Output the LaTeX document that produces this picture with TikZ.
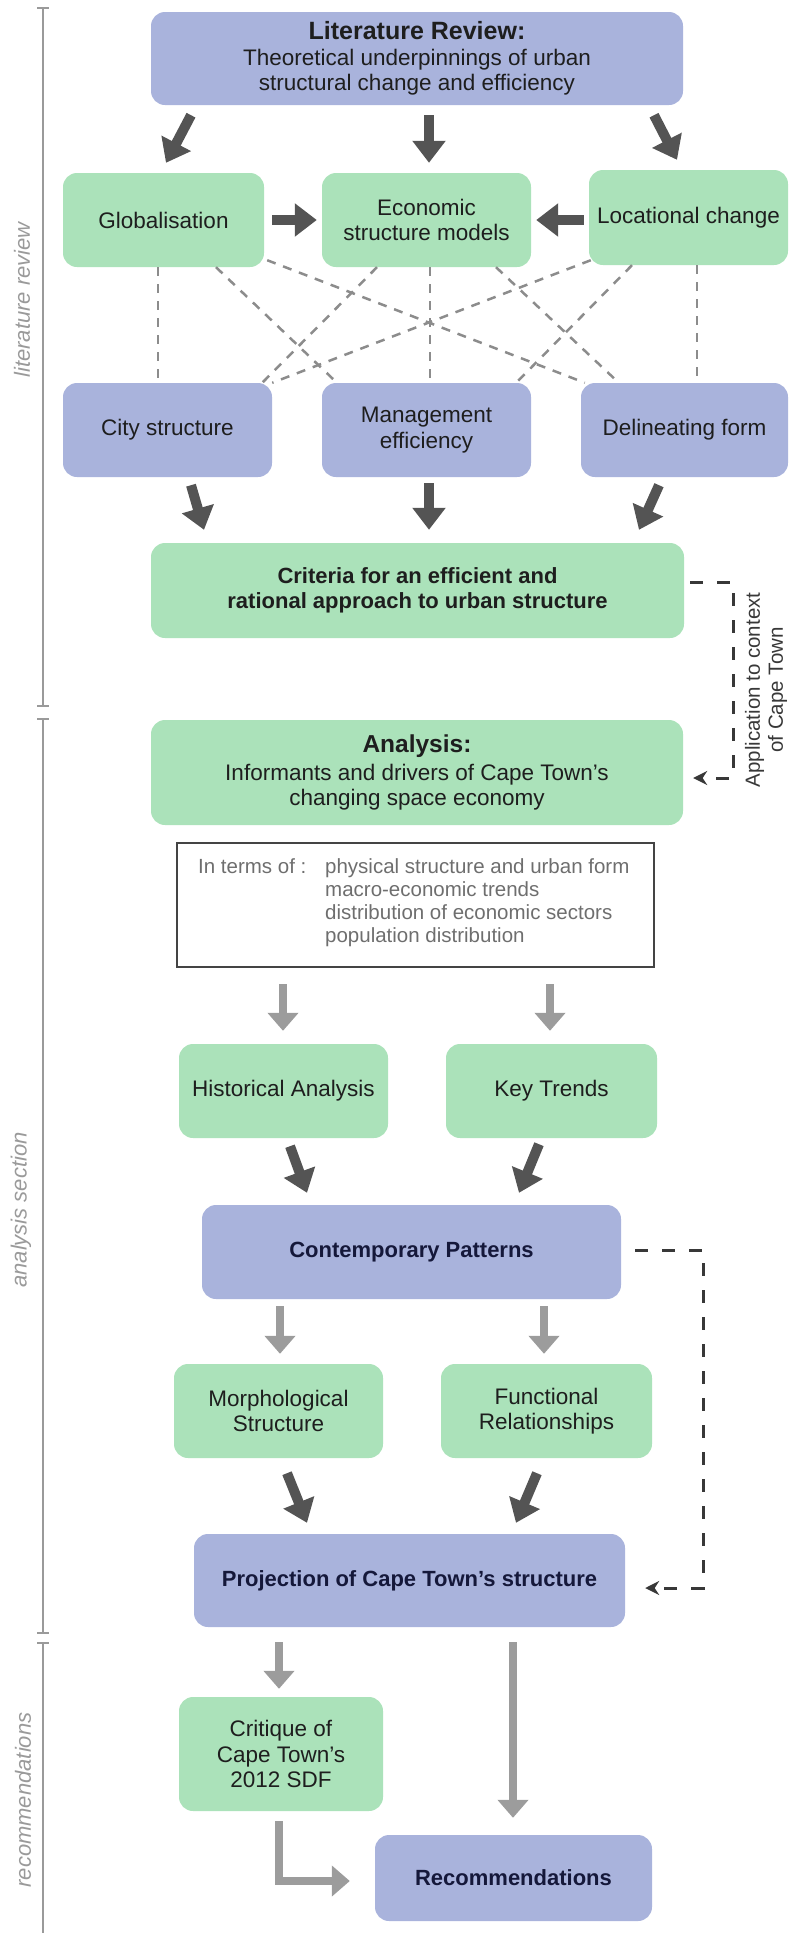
\documentclass[tikz,border=0pt]{standalone}
\usepackage{fontspec}
\setmainfont{Liberation Sans}
\usetikzlibrary{arrows.meta}

\definecolor{boxblue}{HTML}{A9B3DC}
\definecolor{boxgreen}{HTML}{ABE2BA}
\definecolor{arrdark}{HTML}{545454}
\definecolor{arrlight}{HTML}{9C9C9C}
\definecolor{linkgray}{HTML}{8C8C8C}
\definecolor{sidegray}{HTML}{9A9A9A}
\definecolor{txtdark}{HTML}{1E1E1E}
\definecolor{navytxt}{HTML}{15183A}
\definecolor{fbdark}{HTML}{383838}
\definecolor{termsgray}{HTML}{6E6E6E}
\definecolor{termsline}{HTML}{444444}

\tikzset{
  box/.style={rounded corners=14pt, inner sep=0pt, align=center, text=txtdark,
    font=\fontsize{22.5}{25.5}\selectfont},
  bluebox/.style={box, fill=boxblue},
  greenbox/.style={box, fill=boxgreen},
  darrow/.style={color=arrdark, line width=10pt, -{Triangle[length=22pt,width=32pt]}},
  larrow/.style={color=arrlight, line width=8pt, -{Triangle[length=18pt,width=30pt]}},
  link/.style={color=linkgray, line width=2.5pt, dash pattern=on 9pt off 8pt},
  feedback/.style={color=fbdark, line width=3pt, dash pattern=on 13pt off 14pt,
    -{Stealth[length=14pt,width=14pt]}},
  sidebar/.style={color=sidegray, line width=2pt},
  sidelabel/.style={rotate=90, inner sep=0pt, text=sidegray,
    font=\fontsize{22}{22}\selectfont\itshape},
  termstext/.style={anchor=north west, inner sep=0pt, align=left, text=termsgray,
    font=\fontsize{20.5}{23}\selectfont},
}

\begin{document}
\begin{tikzpicture}[x=1pt, y=-1pt]
\useasboundingbox (0,0) rectangle (789,1933);

% section sidebar
\draw[sidebar] (43,8) -- (43,706);
\draw[sidebar] (37,8) -- (49,8);
\draw[sidebar] (37,706) -- (49,706);
\draw[sidebar] (43,719) -- (43,1633);
\draw[sidebar] (37,719) -- (49,719);
\draw[sidebar] (37,1633) -- (49,1633);
\draw[sidebar] (43,1643) -- (43,1933);
\draw[sidebar] (37,1643) -- (49,1643);
\node[sidelabel] (lblreview) at (22,300) {literature review};
\node[sidelabel] (lblanalysis) at (21,1210) {analysis section};
\node[sidelabel] (lblrecs) at (23,1800) {recommendations};

% literature review section
\node[bluebox, minimum width=532pt, minimum height=93pt] (lit) at (417,58.5)
  {{\bfseries\fontsize{25}{27}\selectfont Literature Review:}\\Theoretical underpinnings of urban\\structural change and efficiency};
\node[greenbox, minimum width=201pt, minimum height=94pt] (glob) at (163.5,220) {Globalisation};
\node[greenbox, minimum width=209pt, minimum height=94pt] (econ) at (426.5,220) {Economic\\structure models};
\node[greenbox, minimum width=199pt, minimum height=95pt] (loc) at (688.5,217.5) {Locational change};
\node[bluebox, minimum width=209pt, minimum height=94pt] (city) at (167.5,430) {City structure};
\node[bluebox, minimum width=209pt, minimum height=94pt] (mgmt) at (426.5,430) {Management\\efficiency};
\node[bluebox, minimum width=207pt, minimum height=94pt] (delin) at (684.5,430) {Delineating form};
\node[greenbox, minimum width=533pt, minimum height=95pt, font=\bfseries\fontsize{22}{25.5}\selectfont] (crit) at (417.5,590.5)
  {Criteria for an efficient and\\rational approach to urban structure};

% analysis section
\node[greenbox, minimum width=532pt, minimum height=105pt] (ana) at (417,772.5)
  {{\bfseries\fontsize{24.5}{27}\selectfont Analysis:}\\[2pt]Informants and drivers of Cape Town's\\changing space economy};
\node[draw=termsline, line width=2pt, inner sep=0pt, minimum width=477pt, minimum height=124pt] (terms) at (415.5,905) {};
\node[termstext] (termslabel) at (198,858.5) {In terms of :};
\node[termstext] (termslist) at (325,858.5)
  {physical structure and urban form\\macro-economic trends\\distribution of economic sectors\\population distribution};
\node[greenbox, minimum width=209pt, minimum height=94pt] (hist) at (283.5,1091) {Historical Analysis};
\node[greenbox, minimum width=211pt, minimum height=94pt] (key) at (551.5,1091) {Key Trends};
\node[bluebox, minimum width=419pt, minimum height=94pt, text=navytxt, font=\bfseries\fontsize{22}{25.5}\selectfont] (cont) at (411.5,1252) {Contemporary Patterns};
\node[greenbox, minimum width=209pt, minimum height=94pt] (morph) at (278.5,1411) {Morphological\\Structure};
\node[greenbox, minimum width=211pt, minimum height=94pt] (func) at (546.5,1411) {Functional\\Relationships};
\node[bluebox, minimum width=431pt, minimum height=93pt, text=navytxt, font=\bfseries\fontsize{22}{25.5}\selectfont] (proj) at (409.5,1580.5) {Projection of Cape Town's structure};

% recommendations section
\node[greenbox, minimum width=204pt, minimum height=114pt] (crit2) at (281,1754) {Critique of\\Cape Town's\\2012 SDF};
\node[bluebox, minimum width=277pt, minimum height=86pt, text=navytxt, font=\bfseries\fontsize{22}{25.5}\selectfont] (rec) at (513.5,1878) {Recommendations};

% side note on the feedback connector
\node[rotate=90, inner sep=0pt, align=center, text=fbdark, font=\fontsize{20.5}{23}\selectfont] (apply) at (766,690)
  {Application to context\\of Cape Town};

% arrows from the literature review
\draw[darrow] ([xshift=-226pt,yshift=-10pt]lit.south) -- ([xshift=2.5pt,yshift=10pt]glob.north);
\draw[darrow] ([xshift=12pt,yshift=-10pt]lit.south) -- ([xshift=2.5pt,yshift=10pt]econ.north);
\draw[darrow] ([xshift=237pt,yshift=-10pt]lit.south) -- ([xshift=-11.5pt,yshift=10pt]loc.north);
\draw[darrow] ([xshift=8pt]glob.east) -- ([xshift=-5pt]econ.west);
\draw[darrow] ([xshift=-5pt,yshift=-2.5pt]loc.west) -- ([xshift=5pt]econ.east);

% dashed links between theory themes and structure themes
\draw[link] ([xshift=-5.5pt]glob.south) -- ([xshift=-9.5pt]city.north);
\draw[link] ([xshift=52.5pt]glob.south) -- ([xshift=-89.5pt]mgmt.north);
\draw[link] ([xshift=3pt,yshift=7pt]glob.south east) -- ([xshift=4pt]delin.north west);
\draw[link] ([xshift=-49.5pt]econ.south) -- ([xshift=-10pt]city.north east);
\draw[link] ([xshift=3.5pt]econ.south) -- ([xshift=3.5pt]mgmt.north);
\draw[link] ([xshift=69.5pt]econ.south) -- ([xshift=38pt]delin.north west);
\draw[link] ([xshift=2pt,yshift=5pt]loc.south west) -- (city.north east);
\draw[link] ([xshift=-56.5pt]loc.south) -- ([xshift=-15pt]mgmt.north east);
\draw[link] ([xshift=8.5pt]loc.south) -- ([xshift=12.5pt]delin.north);

% into the criteria
\draw[darrow] ([xshift=23.5pt,yshift=-8pt]city.south) -- ([xshift=-213.5pt,yshift=13pt]crit.north);
\draw[darrow] ([xshift=2.5pt,yshift=-6pt]mgmt.south) -- ([xshift=11.5pt,yshift=13pt]crit.north);
\draw[darrow] ([xshift=-25.5pt,yshift=-8pt]delin.south) -- ([xshift=221.5pt,yshift=13pt]crit.north);

% feedback: criteria applied to Cape Town
\draw[feedback] ([xshift=6pt,yshift=8.5pt]crit.east) -- ++(43,0) |- ([xshift=10pt,yshift=-5.5pt]ana.east);

% analysis flow
\draw[larrow] ([xshift=-132.5pt,yshift=-16pt]terms.south) -- ([xshift=-0.5pt,yshift=13pt]hist.north);
\draw[larrow] ([xshift=134.5pt,yshift=-16pt]terms.south) -- ([xshift=-1.5pt,yshift=13pt]key.north);
\draw[darrow] ([xshift=6.5pt,yshift=-8pt]hist.south) -- ([xshift=-104.5pt,yshift=12pt]cont.north);
\draw[darrow] ([xshift=-12.5pt,yshift=-6pt]key.south) -- ([xshift=107.5pt,yshift=12pt]cont.north);
\draw[larrow] ([xshift=-131.5pt,yshift=-7pt]cont.south) -- ([xshift=1.5pt,yshift=10pt]morph.north);
\draw[larrow] ([xshift=132.5pt,yshift=-7pt]cont.south) -- ([xshift=-2.5pt,yshift=10pt]func.north);
\draw[darrow] ([xshift=8.5pt,yshift=-15pt]morph.south) -- ([xshift=-102.5pt,yshift=11pt]proj.north);
\draw[darrow] ([xshift=-9.5pt,yshift=-15pt]func.south) -- ([xshift=106.5pt,yshift=11pt]proj.north);
\draw[feedback] ([xshift=14pt,yshift=2pt]cont.east) -- ++(68,0) |- ([xshift=20pt,yshift=-7.5pt]proj.east);

% towards the recommendations
\draw[larrow] ([xshift=-130.5pt,yshift=-15pt]proj.south) -- ([xshift=-2pt,yshift=8pt]crit2.north);
\draw[larrow] ([xshift=103.5pt,yshift=-15pt]proj.south) -- ([xshift=-0.5pt,yshift=17pt]rec.north);
\draw[larrow] ([xshift=-2pt,yshift=-10pt]crit2.south) |- ([xshift=-25pt,yshift=-3pt]rec.west);
\end{tikzpicture}
\end{document}
